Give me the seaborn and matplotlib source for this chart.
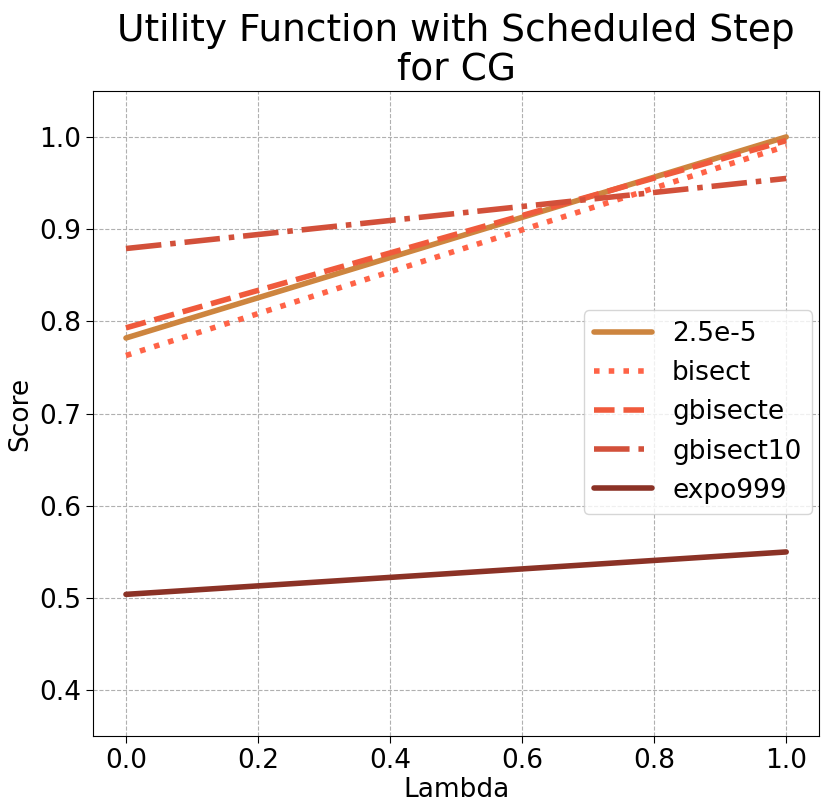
import matplotlib
matplotlib.use("Agg")
import matplotlib.pyplot as plt
import seaborn as sns
import pandas as pd

lambdas = [0.0, 1.0]
series_names = ["2.5e-5", "bisect", "gbisecte", "gbisect10", "expo999"]
score_2_5e_5 = [0.782, 1.0]
score_bisect = [0.763, 0.990]
score_gbisecte = [0.793, 0.996]
score_gbisect10 = [0.879, 0.955]
score_expo999 = [0.504, 0.550]

colors = ["#CD853F", "#FF6347", "#F05A3C", "#D2503A", "#8B3226"]
styles = ["-", ":", "--", "-.", "-"]

all_scores = [score_2_5e_5, score_bisect, score_gbisecte, score_gbisect10, score_expo999]

sns.set_style("whitegrid")
plt.rcParams['font.family'] = ['DejaVu Sans']
plt.rcParams['text.color'] = 'black'
plt.rcParams['axes.labelcolor'] = 'black'
plt.rcParams['xtick.color'] = 'black'
plt.rcParams['ytick.color'] = 'black'

fig, ax = plt.subplots(figsize=(8.3, 8.11), dpi=100)
for name, sc, c, ls in zip(series_names, all_scores, colors, styles):
    df = pd.DataFrame({"Lambda": lambdas, "Score": sc})
    sns.lineplot(data=df, x="Lambda", y="Score", ax=ax, color=c, linestyle=ls,
                 linewidth=4, label=name)

ax.set_xlim(-0.05, 1.05)
ax.set_ylim(0.35, 1.05)
ax.set_xticks([0.0, 0.2, 0.4, 0.6, 0.8, 1.0])
ax.set_yticks([0.4, 0.5, 0.6, 0.7, 0.8, 0.9, 1.0])
ax.tick_params(labelsize=19, length=5, color='black', labelcolor='black', left=True, bottom=True)
ax.set_xlabel("Lambda", fontsize=19, labelpad=2, color='black')
ax.set_ylabel("Score", fontsize=19, color='black')
ax.set_title("Utility Function with Scheduled Step\nfor CG", fontsize=27, linespacing=1.1,
             color='black', pad=8)
ax.grid(True, linestyle='--', color='#b0b0b0', linewidth=0.8)
for s in ax.spines.values():
    s.set_color('black')
    s.set_linewidth(0.8)
leg = ax.legend(loc='center right', bbox_to_anchor=(0.99, 0.502), borderaxespad=0,
                fontsize=19, frameon=True, handlelength=2.2, handletextpad=0.75)
for t in leg.get_texts():
    t.set_color('black')

plt.subplots_adjust(left=0.112, right=0.987, top=0.888, bottom=0.092)
fig.savefig("out.png", dpi=100)
